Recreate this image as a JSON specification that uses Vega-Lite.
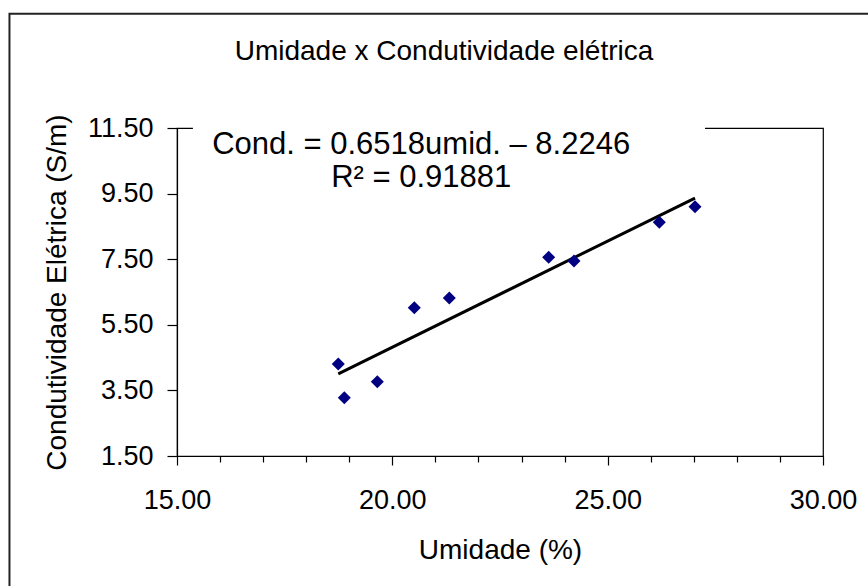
{
  "$schema": "https://vega.github.io/schema/vega-lite/v6.json",
  "width": 646,
  "height": 328,
  "autosize": "none",
  "padding": {"left": 177, "top": 128, "right": 45, "bottom": 130},
  "background": "white",
  "config": {
    "font": "Liberation Sans",
    "view": {"stroke": "black", "strokeWidth": 1.2},
    "axis": {"domainColor": "black", "tickColor": "black", "labelColor": "black", "titleColor": "black", "grid": false, "labelFont": "Liberation Sans", "titleFont": "Liberation Sans", "titleFontWeight": "normal", "domainWidth": 1.2, "tickWidth": 1.2, "labelFlush": false, "labelOverlap": false}
  },
  "title": {"text": "Umidade x Condutividade elétrica", "fontSize": 28, "fontWeight": "normal", "font": "Liberation Sans", "color": "black", "anchor": "middle", "dx": -56, "offset": -53},
  "data": {"values": [
    {"umidade": 18.745, "cond": 4.305},
    {"umidade": 18.885, "cond": 3.277},
    {"umidade": 19.651, "cond": 3.765},
    {"umidade": 20.51, "cond": 6.02},
    {"umidade": 21.323, "cond": 6.317},
    {"umidade": 23.63, "cond": 7.558},
    {"umidade": 24.218, "cond": 7.445},
    {"umidade": 26.199, "cond": 8.625},
    {"umidade": 27.028, "cond": 9.10}
  ]},
  "encoding": {
    "x": {"field": "umidade", "type": "quantitative",
      "scale": {"domain": [15, 30], "nice": false, "zero": false},
      "axis": {"title": "Umidade (%)", "titleFontSize": 28, "titlePadding": 23, "labelFontSize": 27, "labelPadding": 22,
        "values": [15,16,17,18,19,20,21,22,23,24,25,26,27,28,29,30],
        "labelExpr": "datum.value % 5 == 0 ? format(datum.value, '.2f') : ''",
        "tickSize": {"condition": {"test": "datum.value % 5 == 0", "value": 9}, "value": 6}}},
    "y": {"field": "cond", "type": "quantitative",
      "scale": {"domain": [1.5, 11.5], "nice": false, "zero": false},
      "axis": {"title": "Condutividade Elétrica (S/m)", "titleFontSize": 28, "titlePadding": 16, "labelFontSize": 27, "labelPadding": 14, "tickSize": 10,
        "values": [1.5, 3.5, 5.5, 7.5, 9.5, 11.5], "format": ".2f"}}
  },
  "layer": [
    {"transform": [{"aggregate": [{"op": "min", "field": "umidade", "as": "umidade"}, {"op": "min", "field": "cond", "as": "cond"}]}],
     "mark": {"type": "rect", "fill": null, "fillOpacity": 0, "stroke": "#222", "strokeWidth": 2, "clip": false},
     "encoding": {"x": {"datum": 11.11}, "x2": {"datum": 31.6}, "y": {"datum": 14.98}, "y2": {"datum": -3}}},
    {"mark": {"type": "line", "color": "black", "strokeWidth": 3},
     "transform": [{"regression": "cond", "on": "umidade"}]},
    {"mark": {"type": "point", "shape": "diamond", "filled": true, "color": "#000080", "size": 170, "opacity": 1}},
    {"transform": [{"aggregate": [{"op": "min", "field": "umidade", "as": "umidade"}, {"op": "min", "field": "cond", "as": "cond"}]}],
     "mark": {"type": "rect", "fill": "white", "stroke": null, "clip": false},
     "encoding": {"x": {"datum": 15.37}, "x2": {"datum": 27.26}, "y": {"datum": 11.65}, "y2": {"datum": 10.5}}},
    {"transform": [{"aggregate": [{"op": "min", "field": "umidade", "as": "umidade"}, {"op": "min", "field": "cond", "as": "cond"}]}],
     "mark": {"type": "text", "fontSize": 31, "fontWeight": "normal", "color": "black", "align": "center", "baseline": "middle", "lineHeight": 33, "clip": false},
     "encoding": {"x": {"datum": 20.67}, "y": {"datum": 10.98}, "text": {"value": ["Cond. = 0.6518umid. – 8.2246", "R² = 0.91881"]}}}
  ]
}
